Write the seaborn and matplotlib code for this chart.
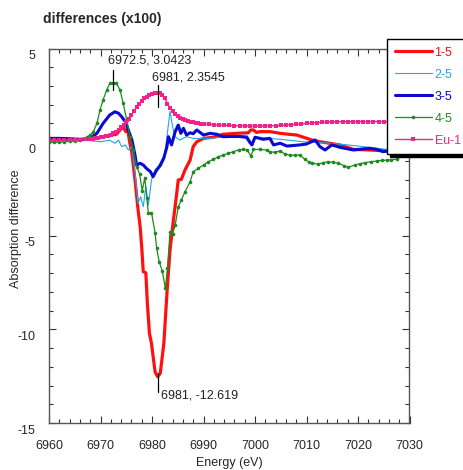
import matplotlib
matplotlib.use("Agg")
import matplotlib.pyplot as plt
import matplotlib.transforms as mtransforms
from matplotlib.ticker import MultipleLocator
import seaborn as sns

# --- data (energy in eV, difference x100) ---
e_15 = [6960, 6962, 6964, 6966, 6968, 6969, 6970, 6970.5, 6971, 6971.8, 6972.5, 6973.1, 6973.8,
        6974.4, 6974.9, 6975.3, 6975.7, 6976.1, 6976.7, 6977.3, 6977.7, 6978.0, 6978.3, 6978.8,
        6979.1, 6979.5, 6979.9, 6980.6, 6981.1, 6981.6, 6982.3, 6982.9, 6983.5, 6984.1, 6984.8,
        6985.1, 6985.7, 6986.4, 6987.4, 6988.0, 6988.7, 6990.0, 6991.9, 6993.8, 6996.4, 6998.7,
        6999.2, 6999.7, 7000.3, 7001, 7002.9, 7004.9, 7006.5, 7008.1, 7009.4, 7011, 7012.6,
        7014.5, 7016.5, 7018, 7019.1, 7022.3, 7024.9, 7027, 7029.4, 7030]
v_15 = [0.12, 0.12, 0.13, 0.14, 0.15, 0.2, 0.25, 0.29, 0.33, 0.38, 0.40, 0.42, 0.65,
        0.82, 0.56, 0.65, -0.06, -0.6, -2.02, -3.63, -4.52, -5.59, -6.92, -6.98,
        -8.61, -10.21, -10.75, -12.27, -12.53, -12.35, -10.75, -8.08, -5.76, -4.3, -2.74,
        -2.02, -1.99, -1.49, -0.96, -0.24, 0.02, 0.20, 0.26, 0.42, 0.47, 0.50,
        0.65, 0.65, 0.52, 0.56, 0.56, 0.47, 0.42, 0.38, 0.26, 0.12, 0.02,
        -0.06, -0.15, -0.28, -0.39, -0.42, -0.46, -0.44, -0.51, -0.5]

e_25 = [6960, 6962, 6964, 6966, 6968, 6969.9, 6971.8, 6972.8, 6973.5, 6974.1, 6974.8, 6975.4,
        6976.1, 6976.7, 6977.3, 6977.8, 6978.3, 6978.8, 6979.3, 6979.9, 6980.6, 6981.2, 6981.9,
        6982.5, 6982.9, 6983.5, 6984.0, 6984.5, 6985.4, 6986.7, 6988, 6991.3, 6994.5, 6998.4,
        6999.0, 6999.6, 7000, 7002, 7004.9, 7009.4, 7014.6, 7018, 7021, 7025.6, 7028, 7030]
v_25 = [0.1, 0.1, 0.1, 0.1, 0.08, 0.02, 0.1, -0.06, 0.11, -0.24, -0.15, -0.42,
        -0.24, -1.67, -3.27, -2.92, -3.45, -2.38, -3.36, -2.02, -1.49, -1.31, -0.96,
        -0.6, 0.29, 1.65, 0.82, 0.29, 0.11, 0.29, 0.2, 0.2, 0.29, 0.38,
        0.11, -0.15, 0.29, 0.22, 0.15, 0.02, -0.06, -0.15, -0.24, -0.39, -0.3, -0.3]

e_35 = [6960, 6962, 6964, 6966, 6967, 6968, 6969.3, 6970.5, 6971.8, 6972.8, 6973.5, 6974.1,
        6974.8, 6975.4, 6976.1, 6976.7, 6977.0, 6977.7, 6978.3, 6978.9, 6979.7, 6980.2, 6980.9,
        6981.6, 6982.3, 6982.9, 6983.2, 6983.8, 6984.5, 6985.1, 6985.6, 6986.1, 6986.7, 6987.4,
        6988, 6988.7, 6990, 6991.3, 6992.6, 6993.8, 6995.1, 6997, 6998.4, 6998.9, 6999.4, 7000,
        7001.6, 7002.9, 7003.6, 7004.9, 7006.2, 7008.7, 7010, 7011.7, 7012.6, 7013.6, 7014.9,
        7016.5, 7019.1, 7021, 7022.3, 7023.6, 7024.9, 7026.5, 7028, 7030]
v_35 = [0.2, 0.2, 0.18, 0.15, 0.15, 0.2, 0.47, 1.0, 1.45, 1.62, 1.54, 1.36,
        1.09, 0.65, 0.11, -0.69, -1.22, -1.13, -1.22, -1.4, -1.58, -1.85, -1.49,
        -1.25, -0.85, -0.24, 0.29, -0.15, 0.56, 0.91, 0.47, 0.74, 0.38, 0.5,
        0.45, 0.65, 0.38, 0.47, 0.42, 0.29, 0.3, 0.3, 0.25, 0.02, -0.15, 0.26,
        0.15, 0.2, -0.15, -0.06, -0.21, -0.15, -0.1, 0.11, -0.24, -0.42, -0.15,
        -0.28, -0.42, -0.36, -0.33, -0.39, -0.51, -0.45, -0.55, -0.6]

e_45 = [6960, 6961, 6962, 6963, 6964, 6965, 6966, 6966.8, 6967.4, 6968.0, 6968.6, 6969.3,
        6969.9, 6970.5, 6971.2, 6971.8, 6972.5, 6973.1, 6973.8, 6974.4, 6975.1, 6975.7, 6976.4,
        6977.0, 6977.6, 6978.1, 6978.6, 6979.0, 6979.3, 6979.9, 6980.6, 6980.9, 6981.4, 6982.0,
        6982.6, 6983.0, 6983.5, 6984.0, 6984.5, 6985.1, 6985.7, 6986.4, 6987.4, 6988.0, 6989.0,
        6990.0, 6990.9, 6991.9, 6992.9, 6993.8, 6994.8, 6995.8, 6996.8, 6997.7, 6998.5, 6999.2,
        6999.7, 7001, 7002.3, 7002.9, 7003.9, 7004.9, 7005.8, 7006.8, 7007.8, 7008.7, 7009.7,
        7010.4, 7011.0, 7012.3, 7013.2, 7014.2, 7015.2, 7016.2, 7017.2, 7018.1, 7019.4, 7020.4,
        7021.4, 7022.5, 7023.6, 7024.6, 7025.6, 7026.5, 7027.5, 7028.8, 7029.8]
v_45 = [0.0, -0.02, 0.0, 0.02, 0.05, 0.06, 0.1, 0.18, 0.27, 0.38, 0.55, 1.0,
        1.71, 2.25, 2.78, 3.14, 3.17, 3.14, 2.78, 2.07, 1.18, 0.29, -0.42,
        -1.31, -1.7, -2.6, -1.9, -3.0, -3.8, -3.77, -4.84, -5.67, -6.39, -6.89,
        -7.81, -6.74, -4.79, -4.91, -4.43, -3.45, -3.09, -2.65, -2.12, -1.58, -1.40,
        -1.22, -1.05, -0.92, -0.78, -0.69, -0.6, -0.51, -0.42, -0.39, -0.42, -0.74,
        -0.39, -0.39, -0.42, -0.51, -0.55, -0.46, -0.64, -0.69, -0.7, -0.69, -0.92,
        -1.05, -1.13, -1.17, -1.1, -1.05, -1.08, -1.13, -1.25, -1.35, -1.22, -1.15,
        -1.10, -1.05, -1.01, -0.98, -0.96, -0.94, -0.92, -0.69, -0.64]

e_eu = [6960, 6961, 6962, 6963, 6964, 6965, 6966, 6967, 6968, 6968.5, 6969, 6969.5,
        6970, 6970.5, 6971, 6971.5, 6972, 6972.5, 6973, 6973.5, 6974, 6974.5, 6975, 6975.5,
        6976, 6976.5, 6977, 6977.5, 6978, 6978.5, 6979, 6979.5, 6980, 6980.5, 6981, 6981.5,
        6982, 6982.5, 6983, 6983.5, 6984, 6984.5, 6985, 6985.5, 6986, 6986.5, 6987, 6987.5,
        6988, 6988.5, 6989, 6989.5, 6990, 6991, 6992, 6993, 6994, 6995, 6996, 6997, 6998,
        6999, 7000, 7001, 7002, 7003, 7004, 7005, 7006, 7007, 7008, 7009, 7010, 7011, 7012,
        7013, 7014, 7015, 7016, 7017, 7018, 7019, 7020, 7021, 7022, 7023, 7024, 7025, 7026,
        7027, 7028, 7029, 7030]
v_eu = [0.10, 0.10, 0.11, 0.12, 0.12, 0.13, 0.14, 0.15, 0.17, 0.18, 0.20, 0.22,
        0.25, 0.28, 0.31, 0.35, 0.40, 0.47, 0.56, 0.67, 0.79, 0.92, 1.06, 1.22,
        1.43, 1.66, 1.88, 2.05, 2.20, 2.33, 2.43, 2.52, 2.59, 2.63, 2.64, 2.62,
        2.52, 2.33, 2.06, 1.82, 1.64, 1.50, 1.38, 1.28, 1.21, 1.16, 1.12, 1.09,
        1.06, 1.03, 1.01, 0.99, 0.98, 0.95, 0.93, 0.91, 0.90, 0.89, 0.88, 0.87, 0.87,
        0.86, 0.86, 0.86, 0.87, 0.87, 0.88, 0.89, 0.91, 0.93, 0.95, 0.97, 1.00, 1.02, 1.04,
        1.06, 1.07, 1.08, 1.09, 1.09, 1.09, 1.10, 1.10, 1.10, 1.10, 1.10, 1.10, 1.10, 1.10,
        1.10, 1.10, 1.10, 1.10]

labels = ["1-5", "2-5", "3-5", "4-5", "Eu-1"]
colors = ["#ff1010", "#1aa8ee", "#0a0ad0", "#1e8a1e", "#f5208c"]

# peak annotations: (x, y of line bottom, y of line top, text, text x, text y)
notes = [(6972.5, 2.78, 3.85, "6972.5, 3.0423", 6971.4, 4.35),
         (6981.2, 1.89, 3.04, "6981, 2.3545", 6980.0, 3.45),
         (6981.2, -13.35, -12.35, "6981, -12.619", 6981.7, -13.55)]

sns.set_style("ticks")
plt.rcParams['font.family'] = ['Liberation Sans', 'DejaVu Sans']
plt.rcParams['axes.unicode_minus'] = False

fig = plt.figure(figsize=(4.63, 4.70), dpi=100)
ax = fig.add_axes([49 / 463, 1 - 423 / 470, 360.5 / 463, 374.5 / 470])

series = [(e_15, v_15, 2.3, None, 0), (e_25, v_25, 0.8, None, 0), (e_35, v_35, 2.2, None, 0),
          (e_45, v_45, 0.9, "o", 2.6), (e_eu, v_eu, 1.0, "s", 2.6)]
for (ex, vy, lw, mk, ms), lab, col in zip(series, labels, colors):
    kw = dict(marker=mk, markersize=ms, markeredgewidth=0) if mk else {}
    sns.lineplot(x=ex, y=vy, ax=ax, color=col, lw=lw, sort=False, estimator=None,
                 label=lab, **kw)

for x0, y0, y1, txt, tx, ty in notes:
    ax.plot([x0, x0], [y0, y1], color="black", lw=0.9)
    ax.text(tx, ty, txt, fontsize=9, va="center", ha="left", color="#222222")

ax.set_xlim(6960, 7030)
ax.set_ylim(-15, 5)
ax.xaxis.set_major_locator(MultipleLocator(10))
ax.xaxis.set_minor_locator(MultipleLocator(2))
ax.yaxis.set_major_locator(MultipleLocator(5))
ax.yaxis.set_minor_locator(MultipleLocator(1))
ax.tick_params(which="both", direction="in", top=True, right=True, labelsize=9,
               color="#333333", width=0.8)
ax.tick_params(which="major", length=5)
ax.tick_params(which="minor", length=3)
ax.tick_params(axis="x", pad=12)
ax.tick_params(axis="y", pad=10)
for s in ax.spines.values():
    s.set_color("#555555")
    s.set_linewidth(1.0)

# y labels sit a little below their ticks in the original
off = mtransforms.ScaledTranslation(0, -6 / 100, fig.dpi_scale_trans)
for lab in ax.get_yticklabels():
    lab.set_transform(lab.get_transform() + off)

ax.set_xlabel("Energy (eV)", fontsize=9, labelpad=4)
ax.set_ylabel("Absorption difference", fontsize=9)
ax.yaxis.set_label_coords(-0.075, 0.52)
fig.text(43 / 463, 1 - 19 / 470, "differences (x100)", fontsize=10, fontweight="bold",
         va="center", ha="left")

leg = ax.legend(loc="upper left", bbox_to_anchor=(387 / 463, 1 - 39 / 470),
                bbox_transform=fig.transFigure, fancybox=False, edgecolor="black",
                framealpha=1, shadow={"color": "black", "alpha": 1}, labelcolor="linecolor",
                fontsize=9, handlelength=3.0, handletextpad=0.2, labelspacing=0.8,
                borderaxespad=0, borderpad=0.6)
leg.get_frame().set_linewidth(1.0)

fig.savefig("out.png", dpi=100)
